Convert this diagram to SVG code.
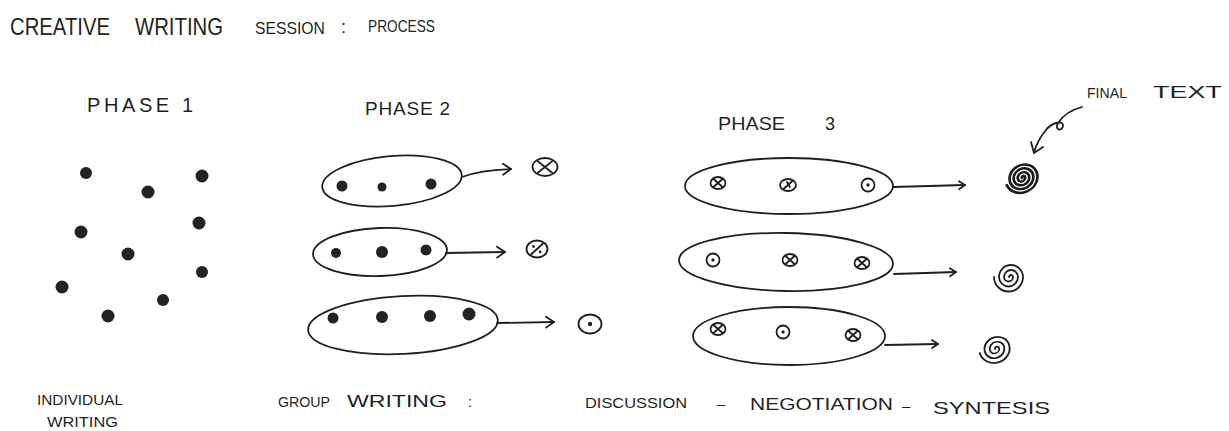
<svg xmlns="http://www.w3.org/2000/svg" xmlns:xlink="http://www.w3.org/1999/xlink" width="1229" height="431" viewBox="0 0 1229 431">
  <style>
    .ink { fill: none; stroke: #1f1f1f; stroke-width: 1.8; stroke-linecap: round; stroke-linejoin: round; }
    .bold { fill: none; stroke: #1a1a1a; stroke-width: 2.6; stroke-linecap: round; }
    .dot { fill: #232323; }
    .lbl { font-family: "Liberation Sans", Arial, sans-serif; fill: #1f1f1f; }
  </style>
  <defs>
    <marker id="chev" markerWidth="12" markerHeight="14" refX="10" refY="7" orient="auto" markerUnits="userSpaceOnUse">
      <path d="M2,1.5 L10,7 L2,12.5" fill="none" stroke="#1f1f1f" stroke-width="1.8" stroke-linecap="round" stroke-linejoin="round"/>
    </marker>
    <marker id="chevS" markerWidth="10" markerHeight="12" refX="8" refY="6" orient="auto" markerUnits="userSpaceOnUse">
      <path d="M2,2 L8,6 L2,10" fill="none" stroke="#1f1f1f" stroke-width="1.8" stroke-linecap="round" stroke-linejoin="round"/>
    </marker>
    <!-- idea marks -->
    <g id="crossBig"><ellipse rx="12.5" ry="9" class="ink"/><path d="M-7.5,-6 L7.5,6 M7.5,-6 L-7.5,6" class="ink"/></g>
    <g id="pct"><ellipse rx="10.5" ry="8.5" class="ink"/><path d="M-6,5.5 L6,-5.5" class="ink"/><circle cx="-3.5" cy="-2.5" r="1.4" class="dot"/><circle cx="3.2" cy="3" r="1.4" class="dot"/></g>
    <g id="dotBig"><ellipse rx="11.5" ry="9.5" class="ink"/><circle r="2.2" class="dot"/></g>
    <g id="crossS"><ellipse rx="7.5" ry="6" class="ink"/><path d="M-4.5,-4 L4.5,4 M4.5,-4 L-4.5,4" class="ink"/></g>
    <g id="slashS"><ellipse rx="8" ry="6" class="ink"/><path d="M-4.5,4 L4.5,-4" class="ink"/><path d="M-1,-3 L2,2" class="ink"/></g>
    <g id="dotS"><ellipse rx="6.5" ry="6.5" class="ink"/><circle r="1.7" class="dot"/></g>
    <!-- spirals -->
    <path id="spiral" class="ink" d="M0,0 a2,2 0 0 1 4,0 a4.5,4.5 0 0 1 -9,0 a7,7 0 0 1 14,0 a9.5,9.5 0 0 1 -19,0 a12,12 0 0 1 24,0 a14.5,14.5 0 0 1 -29,0"/>
    <path id="spiralBold" class="bold" d="M0,0 a1.5,1.5 0 0 1 3,0 a3.5,3.5 0 0 1 -7,0 a5.5,5.5 0 0 1 11,0 a7.5,7.5 0 0 1 -15,0 a9.5,9.5 0 0 1 19,0 a11.5,11.5 0 0 1 -23,0 a13.5,13.5 0 0 1 27,0 a15.5,15.5 0 0 1 -31,0"/>
  </defs>

  <rect width="1229" height="431" fill="#ffffff"/>

  <!-- title -->
  <g id="title" class="lbl">
    <text x="10" y="35" font-size="24" textLength="100" lengthAdjust="spacingAndGlyphs">CREATIVE</text>
    <text x="135" y="35" font-size="24" textLength="88" lengthAdjust="spacingAndGlyphs">WRITING</text>
    <text x="255" y="34" font-size="17" textLength="70" lengthAdjust="spacingAndGlyphs">SESSION</text>
    <text x="341" y="33" font-size="18">:</text>
    <text x="368" y="32" font-size="17" textLength="67" lengthAdjust="spacingAndGlyphs">PROCESS</text>
  </g>

  <!-- phase 1: individual writers -->
  <g id="phase1">
    <text class="lbl" x="87" y="112" font-size="20" textLength="106" lengthAdjust="spacing">PHASE 1</text>
    <circle cx="86" cy="173" r="6" class="dot"/>
    <circle cx="202" cy="176" r="6.5" class="dot"/>
    <circle cx="148" cy="192" r="6.5" class="dot"/>
    <circle cx="199" cy="223" r="6.5" class="dot"/>
    <circle cx="81" cy="232" r="6.5" class="dot"/>
    <circle cx="128" cy="254" r="6.5" class="dot"/>
    <circle cx="202" cy="272" r="6" class="dot"/>
    <circle cx="62" cy="287" r="6.5" class="dot"/>
    <circle cx="163" cy="300" r="6" class="dot"/>
    <circle cx="108" cy="316" r="6.5" class="dot"/>
    <text class="lbl" x="37" y="405" font-size="15" textLength="86" lengthAdjust="spacingAndGlyphs">INDIVIDUAL</text>
    <text class="lbl" x="47" y="427" font-size="15" textLength="71" lengthAdjust="spacingAndGlyphs">WRITING</text>
  </g>

  <!-- phase 2: small groups -->
  <g id="phase2">
    <text class="lbl" x="365" y="115" font-size="19" textLength="85" lengthAdjust="spacing">PHASE 2</text>
    <g id="group2a">
      <ellipse cx="392" cy="181" rx="70" ry="25" transform="rotate(-5 392 181)" class="ink"/>
      <circle cx="342" cy="186" r="5.5" class="dot"/>
      <circle cx="382" cy="187" r="4.5" class="dot"/>
      <circle cx="431" cy="184" r="5.5" class="dot"/>
    </g>
    <g id="group2b">
      <ellipse cx="380" cy="252" rx="67" ry="24" transform="rotate(-2 380 252)" class="ink"/>
      <circle cx="336" cy="253" r="5" class="dot"/>
      <circle cx="382" cy="252" r="6" class="dot"/>
      <circle cx="426" cy="250" r="5.5" class="dot"/>
    </g>
    <g id="group2c">
      <ellipse cx="403" cy="325" rx="95" ry="29" transform="rotate(-3 403 325)" class="ink"/>
      <circle cx="333" cy="318" r="5.5" class="dot"/>
      <circle cx="382" cy="317" r="6" class="dot"/>
      <circle cx="430" cy="316" r="6" class="dot"/>
      <circle cx="469" cy="314" r="6.5" class="dot"/>
    </g>
    <g id="idea2a"><use xlink:href="#crossBig" x="545" y="167"/></g>
    <g id="idea2b"><use xlink:href="#pct" x="537" y="249"/></g>
    <g id="idea2c"><use xlink:href="#dotBig" x="590" y="324"/></g>
  </g>

  <!-- phase 3: regrouped ideas -->
  <g id="phase3">
    <text class="lbl" x="718" y="130" font-size="18" textLength="67" lengthAdjust="spacingAndGlyphs">PHASE</text>
    <text class="lbl" x="825" y="130" font-size="18">3</text>
    <g id="group3a">
      <ellipse cx="789" cy="186" rx="104" ry="28" class="ink"/>
      <use xlink:href="#crossS" x="718" y="183"/>
      <use xlink:href="#slashS" x="788" y="185"/>
      <use xlink:href="#dotS" x="868" y="185"/>
    </g>
    <g id="group3b">
      <ellipse cx="786" cy="262" rx="107" ry="29" transform="rotate(1 786 262)" class="ink"/>
      <use xlink:href="#dotS" x="713" y="260"/>
      <use xlink:href="#crossS" x="790" y="260"/>
      <use xlink:href="#crossS" x="862" y="263"/>
    </g>
    <g id="group3c">
      <ellipse cx="789" cy="336" rx="96" ry="29" class="ink"/>
      <use xlink:href="#crossS" x="718" y="329"/>
      <use xlink:href="#dotS" x="783" y="332"/>
      <use xlink:href="#crossS" x="853" y="335"/>
    </g>
    <g id="final1"><use xlink:href="#spiralBold" transform="translate(1022 178) rotate(-25) scale(1.05 0.92)"/></g>
    <g id="final2"><use xlink:href="#spiral" transform="translate(1009 277)"/></g>
    <g id="final3"><use xlink:href="#spiral" transform="translate(995 349) rotate(-15) scale(1.05 0.95)"/></g>
    <g id="finalNote">
      <text class="lbl" x="1087" y="98" font-size="15" textLength="40" lengthAdjust="spacingAndGlyphs">FINAL</text>
      <text class="lbl" x="1153" y="98" font-size="17" textLength="69" lengthAdjust="spacingAndGlyphs">TEXT</text>
    </g>
  </g>

  <!-- bottom caption -->
  <g id="caption" class="lbl" font-size="15">
    <text x="278" y="407" textLength="52" lengthAdjust="spacingAndGlyphs">GROUP</text>
    <text x="347" y="407" font-size="16" textLength="100" lengthAdjust="spacingAndGlyphs">WRITING</text>
    <text x="468" y="407">:</text>
    <text x="585" y="408" textLength="102" lengthAdjust="spacingAndGlyphs">DISCUSSION</text>
    <text x="717" y="409">–</text>
    <text x="750" y="410" font-size="17" textLength="143" lengthAdjust="spacingAndGlyphs">NEGOTIATION</text>
    <text x="902" y="411">–</text>
    <text x="933" y="414" font-size="17" textLength="117" lengthAdjust="spacingAndGlyphs">SYNTESIS</text>
  </g>

  <!-- connectors -->
  <g id="connectors" class="ink">
    <path d="M462,177 Q480,170 511,169" marker-end="url(#chev)"/>
    <path d="M446,253 L505,252" marker-end="url(#chev)"/>
    <path d="M497,323 L554,322" marker-end="url(#chev)"/>
    <path d="M893,187 L965,185" marker-end="url(#chevS)"/>
    <path d="M894,274 L956,272" marker-end="url(#chevS)"/>
    <path d="M885,345 L938,344" marker-end="url(#chevS)"/>
    <path d="M1082,107 C1070,110 1062,117 1058,123 C1054,130 1062,132 1063,126 C1064,120 1052,122 1046,130 C1040,137 1036,145 1034,153"/>
    <path d="M1031,142 L1034,153 L1043,147"/>
  </g>
</svg>
